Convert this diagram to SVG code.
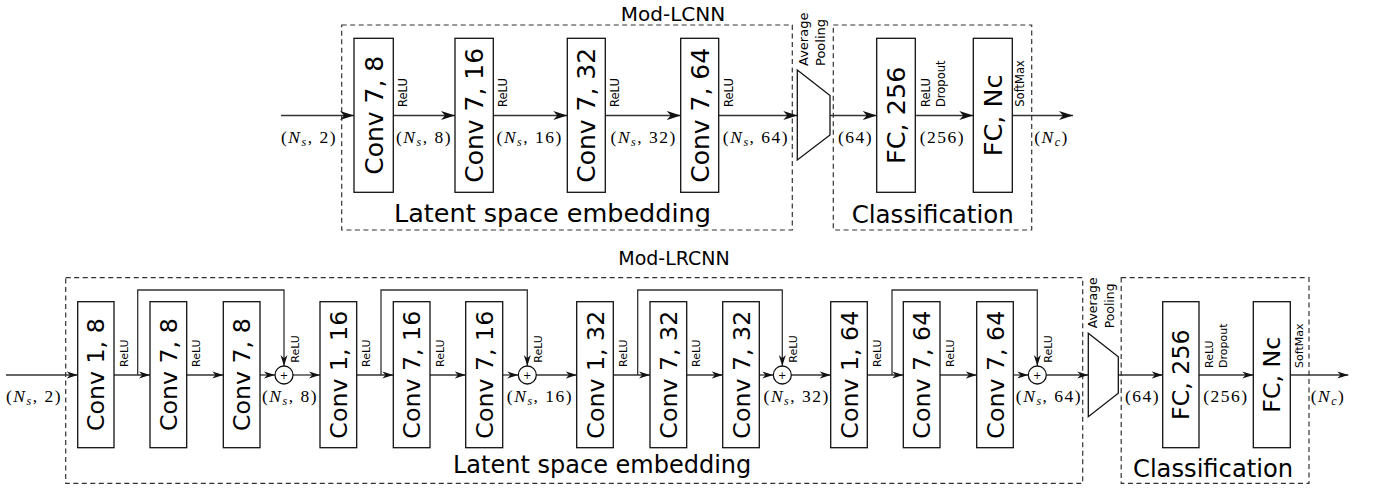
<svg xmlns="http://www.w3.org/2000/svg" width="1375" height="489" viewBox="0 0 1375 489">
<style>
.box{fill:#fff;stroke:#111;stroke-width:1.3}
.dash{fill:none;stroke:#333;stroke-width:1.2;stroke-dasharray:5 3.5}
.ln{fill:none;stroke:#333;stroke-width:1.3}
.t{font-family:"DejaVu Sans",sans-serif;fill:#000}
.m{font-family:"Liberation Serif",serif;font-size:17.5px;letter-spacing:1.5px;fill:#000;text-anchor:middle}
.sm{font-family:"DejaVu Sans",sans-serif;font-size:11.5px;fill:#000}
.smb{font-family:"DejaVu Sans",sans-serif;font-size:11px;fill:#000}
.it{font-style:italic}
</style>
<defs>
<marker id="a" markerUnits="userSpaceOnUse" markerWidth="16" markerHeight="10" refX="14" refY="5" orient="auto"><path d="M0,0.5 L14,5 L0,9.5 L4,5 Z" fill="#111"/></marker>
<marker id="b" markerUnits="userSpaceOnUse" markerWidth="13" markerHeight="8" refX="11" refY="4" orient="auto"><path d="M0,0.5 L11,4 L0,7.5 L3.2,4 Z" fill="#111"/></marker>
</defs>

<!-- ============ TOP: Mod-LCNN ============ -->
<g id="top-frames">
<rect class="dash" x="341.7" y="25" width="450.6" height="205"/>
<rect class="dash" x="833.3" y="25" width="198.4" height="205"/>
<text class="t" x="673" y="20.5" font-size="20" text-anchor="middle">Mod-LCNN</text>
<text class="t" x="394" y="222" font-size="25.5">Latent space embedding</text>
<text class="t" x="851.7" y="223.3" font-size="24.5">Classification</text>
</g>

<g id="top-connectors">
<line class="ln" x1="281" y1="115.5" x2="354" y2="115.5" marker-end="url(#a)"/>
<line class="ln" x1="393.3" y1="115.5" x2="455" y2="115.5" marker-end="url(#a)"/>
<line class="ln" x1="493.3" y1="115.5" x2="567.3" y2="115.5" marker-end="url(#a)"/>
<line class="ln" x1="605.3" y1="115.5" x2="680.7" y2="115.5" marker-end="url(#a)"/>
<line class="ln" x1="718.7" y1="115.5" x2="797.3" y2="115.5" marker-end="url(#a)"/>
<line class="ln" x1="830" y1="115.5" x2="876.7" y2="115.5" marker-end="url(#a)"/>
<line class="ln" x1="915.3" y1="115.5" x2="973.3" y2="115.5" marker-end="url(#a)"/>
<line class="ln" x1="1012.3" y1="115.5" x2="1073" y2="115.5" marker-end="url(#a)"/>
</g>

<g id="top-conv1">
<rect class="box" x="354" y="38.3" width="39.3" height="154"/>
<text class="t" transform="translate(373.65,115.3) rotate(-90)" y="9.1" font-size="25" text-anchor="middle">Conv 7, 8</text>
</g>
<g id="top-conv2">
<rect class="box" x="455" y="38.3" width="38.3" height="154"/>
<text class="t" transform="translate(474.15,115.3) rotate(-90)" y="9.1" font-size="25" text-anchor="middle">Conv 7, 16</text>
</g>
<g id="top-conv3">
<rect class="box" x="567.3" y="38.3" width="38" height="154"/>
<text class="t" transform="translate(586.3,115.3) rotate(-90)" y="9.1" font-size="25" text-anchor="middle">Conv 7, 32</text>
</g>
<g id="top-conv4">
<rect class="box" x="680.7" y="38.3" width="38" height="154"/>
<text class="t" transform="translate(699.7,115.3) rotate(-90)" y="9.1" font-size="25" text-anchor="middle">Conv 7, 64</text>
</g>
<g id="top-pool">
<path class="box" d="M797.3,70 L830,95.5 L830,135 L797.3,160 Z"/>
<text class="t" transform="translate(807.8,66) rotate(-90)" font-size="13">Average</text>
<text class="t" transform="translate(825.3,66) rotate(-90)" font-size="13">Pooling</text>
</g>
<g id="top-fc1">
<rect class="box" x="876.7" y="38.3" width="38.6" height="154"/>
<text class="t" transform="translate(896,115.3) rotate(-90)" y="9.3" font-size="25.5" text-anchor="middle">FC, 256</text>
</g>
<g id="top-fc2">
<rect class="box" x="973.3" y="38.3" width="39" height="154"/>
<text class="t" transform="translate(992.8,115.3) rotate(-90)" y="9.3" font-size="25.5" text-anchor="middle">FC, Nc</text>
</g>

<g id="top-labels">
<text class="sm" transform="translate(407.3,107) rotate(-90)">ReLU</text>
<text class="sm" transform="translate(507.3,107) rotate(-90)">ReLU</text>
<text class="sm" transform="translate(619.3,107) rotate(-90)">ReLU</text>
<text class="sm" transform="translate(732.7,107) rotate(-90)">ReLU</text>
<text class="sm" transform="translate(930.2,107) rotate(-90)">ReLU</text>
<text class="sm" transform="translate(945,107) rotate(-90)">Dropout</text>
<text class="sm" transform="translate(1024,106.7) rotate(-90)">SoftMax</text>
<text class="m" x="309" y="143">(<tspan class="it">N</tspan><tspan class="it" font-size="12" dy="3">s</tspan><tspan dy="-3">, 2)</tspan></text>
<text class="m" x="424" y="143">(<tspan class="it">N</tspan><tspan class="it" font-size="12" dy="3">s</tspan><tspan dy="-3">, 8)</tspan></text>
<text class="m" x="529.7" y="143">(<tspan class="it">N</tspan><tspan class="it" font-size="12" dy="3">s</tspan><tspan dy="-3">, 16)</tspan></text>
<text class="m" x="643.7" y="143">(<tspan class="it">N</tspan><tspan class="it" font-size="12" dy="3">s</tspan><tspan dy="-3">, 32)</tspan></text>
<text class="m" x="756" y="143">(<tspan class="it">N</tspan><tspan class="it" font-size="12" dy="3">s</tspan><tspan dy="-3">, 64)</tspan></text>
<text class="m" x="855.5" y="143">(64)</text>
<text class="m" x="942.5" y="143">(256)</text>
<text class="m" x="1051.5" y="143">(<tspan class="it">N</tspan><tspan class="it" font-size="12" dy="3">c</tspan><tspan dy="-3">)</tspan></text>
</g>

<!-- ============ BOTTOM: Mod-LRCNN ============ -->
<g id="bot-frames">
<rect class="dash" x="65.7" y="277.7" width="1017" height="205.6"/>
<rect class="dash" x="1121.2" y="277.7" width="187.8" height="205.6"/>
<text class="t" x="674" y="265" font-size="19" text-anchor="middle">Mod-LRCNN</text>
<text class="t" x="453" y="472.7" font-size="24">Latent space embedding</text>
<text class="t" x="1133" y="476.7" font-size="24.2">Classification</text>
</g>

<g id="bot-connectors">
<line class="ln" x1="6" y1="375" x2="77.7" y2="375" marker-end="url(#b)"/>
<line class="ln" x1="114" y1="375" x2="150" y2="375" marker-end="url(#b)"/>
<line class="ln" x1="186.7" y1="375" x2="223.3" y2="375" marker-end="url(#b)"/>
<line class="ln" x1="260" y1="375" x2="275" y2="375" marker-end="url(#b)"/>
<line class="ln" x1="293" y1="375" x2="320" y2="375" marker-end="url(#b)"/>
<line class="ln" x1="356.7" y1="375" x2="393.3" y2="375" marker-end="url(#b)"/>
<line class="ln" x1="430" y1="375" x2="465.7" y2="375" marker-end="url(#b)"/>
<line class="ln" x1="502.7" y1="375" x2="518.3" y2="375" marker-end="url(#b)"/>
<line class="ln" x1="536.3" y1="375" x2="576.7" y2="375" marker-end="url(#b)"/>
<line class="ln" x1="613.3" y1="375" x2="650" y2="375" marker-end="url(#b)"/>
<line class="ln" x1="686.7" y1="375" x2="722.7" y2="375" marker-end="url(#b)"/>
<line class="ln" x1="759.3" y1="375" x2="773.3" y2="375" marker-end="url(#b)"/>
<line class="ln" x1="791.3" y1="375" x2="830.7" y2="375" marker-end="url(#b)"/>
<line class="ln" x1="867.3" y1="375" x2="903.3" y2="375" marker-end="url(#b)"/>
<line class="ln" x1="940" y1="375" x2="976.7" y2="375" marker-end="url(#b)"/>
<line class="ln" x1="1013.3" y1="375" x2="1028.3" y2="375" marker-end="url(#b)"/>
<line class="ln" x1="1046.3" y1="375" x2="1088.3" y2="375" marker-end="url(#b)"/>
<line class="ln" x1="1118.3" y1="375" x2="1162.7" y2="375" marker-end="url(#b)"/>
<line class="ln" x1="1199" y1="375" x2="1253.3" y2="375" marker-end="url(#b)"/>
<line class="ln" x1="1290.3" y1="375" x2="1348.3" y2="375" marker-end="url(#b)"/>
<path class="ln" d="M137.7,375 V290 H284 V366" marker-end="url(#b)"/>
<path class="ln" d="M381,375 V290 H527.3 V366" marker-end="url(#b)"/>
<path class="ln" d="M637.7,375 V290 H782.3 V366" marker-end="url(#b)"/>
<path class="ln" d="M892,375 V290 H1037.3 V366" marker-end="url(#b)"/>
</g>

<g id="bot-c1"><rect class="box" x="77.7" y="301.7" width="36.3" height="146"/>
<text class="t" transform="translate(95.85,374.7) rotate(-90)" y="8.6" font-size="23.7" text-anchor="middle">Conv 1, 8</text></g>
<g id="bot-c2"><rect class="box" x="150" y="301.7" width="36.7" height="146"/>
<text class="t" transform="translate(168.35,374.7) rotate(-90)" y="8.6" font-size="23.7" text-anchor="middle">Conv 7, 8</text></g>
<g id="bot-c3"><rect class="box" x="223.3" y="301.7" width="36.7" height="146"/>
<text class="t" transform="translate(241.65,374.7) rotate(-90)" y="8.6" font-size="23.7" text-anchor="middle">Conv 7, 8</text></g>
<g id="bot-sum1"><circle class="box" cx="284" cy="375" r="9"/><text class="t" x="284" y="378.5" font-size="10" text-anchor="middle">+</text></g>
<g id="bot-c4"><rect class="box" x="320" y="301.7" width="36.7" height="146"/>
<text class="t" transform="translate(338.35,374.7) rotate(-90)" y="8.6" font-size="23.7" text-anchor="middle">Conv 1, 16</text></g>
<g id="bot-c5"><rect class="box" x="393.3" y="301.7" width="36.7" height="146"/>
<text class="t" transform="translate(411.65,374.7) rotate(-90)" y="8.6" font-size="23.7" text-anchor="middle">Conv 7, 16</text></g>
<g id="bot-c6"><rect class="box" x="465.7" y="301.7" width="37" height="146"/>
<text class="t" transform="translate(484.2,374.7) rotate(-90)" y="8.6" font-size="23.7" text-anchor="middle">Conv 7, 16</text></g>
<g id="bot-sum2"><circle class="box" cx="527.3" cy="375" r="9"/><text class="t" x="527.3" y="378.5" font-size="10" text-anchor="middle">+</text></g>
<g id="bot-c7"><rect class="box" x="576.7" y="301.7" width="36.6" height="146"/>
<text class="t" transform="translate(595,374.7) rotate(-90)" y="8.6" font-size="23.7" text-anchor="middle">Conv 1, 32</text></g>
<g id="bot-c8"><rect class="box" x="650" y="301.7" width="36.7" height="146"/>
<text class="t" transform="translate(668.35,374.7) rotate(-90)" y="8.6" font-size="23.7" text-anchor="middle">Conv 7, 32</text></g>
<g id="bot-c9"><rect class="box" x="722.7" y="301.7" width="36.6" height="146"/>
<text class="t" transform="translate(741,374.7) rotate(-90)" y="8.6" font-size="23.7" text-anchor="middle">Conv 7, 32</text></g>
<g id="bot-sum3"><circle class="box" cx="782.3" cy="375" r="9"/><text class="t" x="782.3" y="378.5" font-size="10" text-anchor="middle">+</text></g>
<g id="bot-c10"><rect class="box" x="830.7" y="301.7" width="36.6" height="146"/>
<text class="t" transform="translate(849,374.7) rotate(-90)" y="8.6" font-size="23.7" text-anchor="middle">Conv 1, 64</text></g>
<g id="bot-c11"><rect class="box" x="903.3" y="301.7" width="36.7" height="146"/>
<text class="t" transform="translate(921.65,374.7) rotate(-90)" y="8.6" font-size="23.7" text-anchor="middle">Conv 7, 64</text></g>
<g id="bot-c12"><rect class="box" x="976.7" y="301.7" width="36.6" height="146"/>
<text class="t" transform="translate(995,374.7) rotate(-90)" y="8.6" font-size="23.7" text-anchor="middle">Conv 7, 64</text></g>
<g id="bot-sum4"><circle class="box" cx="1037.3" cy="375" r="9"/><text class="t" x="1037.3" y="378.5" font-size="10" text-anchor="middle">+</text></g>
<g id="bot-pool">
<path class="box" d="M1088.3,333.3 L1118.3,356.7 L1118.3,393.3 L1088.3,416.7 Z"/>
<text class="t" transform="translate(1097.3,328.3) rotate(-90)" font-size="12.4">Average</text>
<text class="t" transform="translate(1114,328.3) rotate(-90)" font-size="12.4">Pooling</text>
</g>
<g id="bot-fc1"><rect class="box" x="1162.7" y="301.7" width="36.3" height="146"/>
<text class="t" transform="translate(1180.85,374.7) rotate(-90)" y="8.6" font-size="23.7" text-anchor="middle">FC, 256</text></g>
<g id="bot-fc2"><rect class="box" x="1253.3" y="301.7" width="37" height="146"/>
<text class="t" transform="translate(1271.8,374.7) rotate(-90)" y="8.6" font-size="23.7" text-anchor="middle">FC, Nc</text></g>

<g id="bot-labels">
<text class="smb" transform="translate(127.5,367) rotate(-90)">ReLU</text>
<text class="smb" transform="translate(200,367) rotate(-90)">ReLU</text>
<text class="smb" transform="translate(299,362.7) rotate(-90)">ReLU</text>
<text class="smb" transform="translate(370,367) rotate(-90)">ReLU</text>
<text class="smb" transform="translate(443.5,367) rotate(-90)">ReLU</text>
<text class="smb" transform="translate(542,362.7) rotate(-90)">ReLU</text>
<text class="smb" transform="translate(627,367) rotate(-90)">ReLU</text>
<text class="smb" transform="translate(700,367) rotate(-90)">ReLU</text>
<text class="smb" transform="translate(797,362.7) rotate(-90)">ReLU</text>
<text class="smb" transform="translate(881,367) rotate(-90)">ReLU</text>
<text class="smb" transform="translate(953.5,367) rotate(-90)">ReLU</text>
<text class="smb" transform="translate(1052,362.7) rotate(-90)">ReLU</text>
<text class="smb" transform="translate(1213,368) rotate(-90)">ReLU</text>
<text class="smb" transform="translate(1227,368) rotate(-90)">Dropout</text>
<text class="smb" transform="translate(1303,368) rotate(-90)">SoftMax</text>
<text class="m" x="34" y="402">(<tspan class="it">N</tspan><tspan class="it" font-size="12" dy="3">s</tspan><tspan dy="-3">, 2)</tspan></text>
<text class="m" x="290" y="402">(<tspan class="it">N</tspan><tspan class="it" font-size="12" dy="3">s</tspan><tspan dy="-3">, 8)</tspan></text>
<text class="m" x="540" y="402">(<tspan class="it">N</tspan><tspan class="it" font-size="12" dy="3">s</tspan><tspan dy="-3">, 16)</tspan></text>
<text class="m" x="796.7" y="402">(<tspan class="it">N</tspan><tspan class="it" font-size="12" dy="3">s</tspan><tspan dy="-3">, 32)</tspan></text>
<text class="m" x="1049" y="402">(<tspan class="it">N</tspan><tspan class="it" font-size="12" dy="3">s</tspan><tspan dy="-3">, 64)</tspan></text>
<text class="m" x="1142.5" y="402">(64)</text>
<text class="m" x="1226" y="402">(256)</text>
<text class="m" x="1328" y="402">(<tspan class="it">N</tspan><tspan class="it" font-size="12" dy="3">c</tspan><tspan dy="-3">)</tspan></text>
</g>
</svg>
